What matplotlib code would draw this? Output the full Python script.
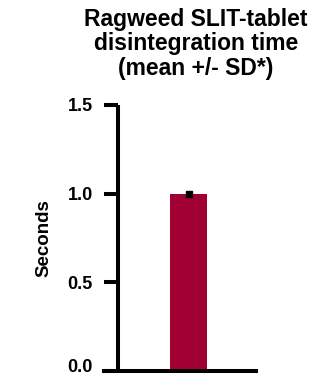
import matplotlib
matplotlib.use("Agg")
import matplotlib.pyplot as plt
from matplotlib.transforms import ScaledTranslation

plt.rcParams['font.family'] = ['Liberation Sans', 'DejaVu Sans']
plt.rcParams['font.weight'] = 'bold'

# data
groups = ["Ragweed SLIT-tablet"]
mean_sec = [1.0]
sd_sec = [0.005]
y_ticks = [0.0, 0.5, 1.0, 1.5]
y_tick_labels = ["0.0", "0.5", "1.0", "1.5"]

fig = plt.figure(figsize=(3.27, 3.76), dpi=100)
ax = fig.add_axes([104 / 327, 5 / 376, 152 / 327, 266 / 376])

ax.bar(range(len(groups)), mean_sec, width=0.5, color="#A00032", zorder=2)
ax.errorbar(range(len(groups)), mean_sec, yerr=sd_sec, fmt='s', color='black',
            markersize=4.5, capsize=0, elinewidth=1.5, zorder=3)

ax.set_xlim(-1.142, 0.912)
ax.set_ylim(0, 1.5)
ax.set_yticks(y_ticks)
ax.set_yticklabels(y_tick_labels)
ax.set_xticks([])

for s in ['top', 'right']:
    ax.spines[s].set_visible(False)
ax.spines['left'].set_position(('data', -0.953))
ax.spines['left'].set_linewidth(2.9)
ax.spines['bottom'].set_linewidth(2.9)
ax.spines['left'].set_capstyle('butt')
ax.tick_params(axis='y', length=10, width=2.9, pad=8, labelsize=13)

# lift the bottom label a little so it stays inside the figure
lbl0 = ax.get_yticklabels()[0]
lbl0.set_transform(lbl0.get_transform() + ScaledTranslation(0, 5 / 100, fig.dpi_scale_trans))

ax.set_ylabel("Seconds", fontsize=13.5, fontweight='bold')
ax.yaxis.set_label_coords(-0.342, 0.5)

fig.text(196 / 327, 1 - 8 / 376,
         "Ragweed SLIT-tablet\ndisintegration time\n(mean +/- SD*)",
         ha='center', va='top', fontsize=16.5, fontweight='bold',
         linespacing=1.07)

fig.savefig("out.png", dpi=100)
